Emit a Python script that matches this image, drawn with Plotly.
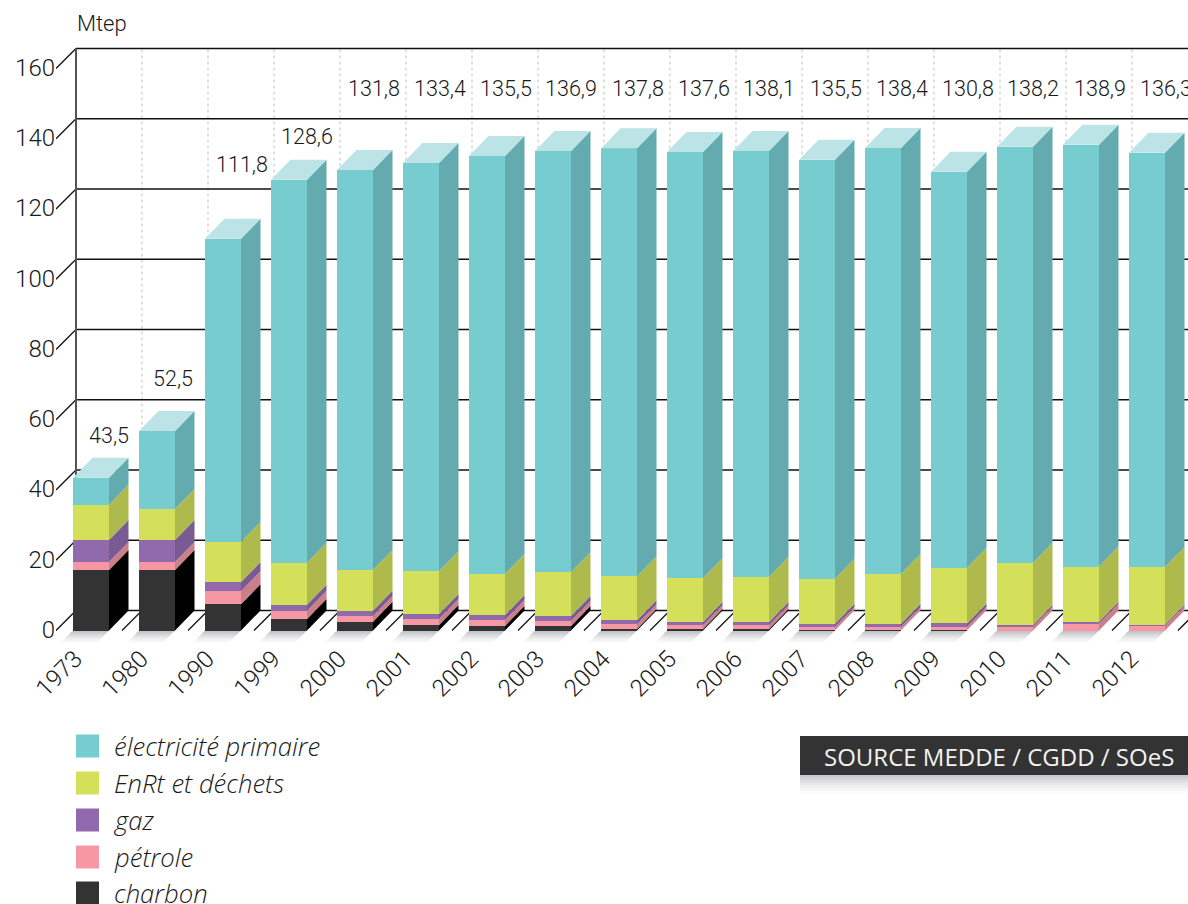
import plotly.graph_objects as go

years = ["1973","1980","1990","1999","2000","2001","2002","2003","2004","2005","2006","2007","2008","2009","2010","2011","2012"]
charbon = [17.2,17.2,7.5,3.3,2.5,1.6,1.3,1.3,0.4,0.4,0.4,0.1,0.1,0.1,0.0,0.0,0.0]
petrole = [2.3,2.3,3.7,2.3,1.6,1.7,1.7,1.4,1.4,1.1,1.1,0.9,0.9,1.0,1.0,1.9,1.3]
gaz = [6.3,6.3,2.6,1.7,1.5,1.4,1.4,1.4,1.1,0.9,0.9,0.9,0.9,0.9,0.6,0.6,0.4]
enrt = [10.0,8.8,11.4,12.0,11.6,12.2,11.7,12.5,12.5,12.5,12.8,12.8,14.2,15.9,17.7,15.7,16.4]
elec = [7.7,22.2,86.3,109.0,113.9,116.2,119.0,119.9,121.9,121.3,121.3,119.3,121.3,112.7,118.4,120.1,117.9]
total_labels = ["43,5","52,5","111,8","128,6","131,8","133,4","135,5","136,9","137,8","137,6","138,1","135,5","138,4","130,8","138,2","138,9","136,3"]
y_ticks = [0,20,40,60,80,100,120,140,160]
series_names = ["charbon","pétrole","gaz","EnRt et déchets","électricité primaire"]

# styling / layout constants (pixels of the page)
W, H = 1188, 904
PX_X0, PX_STEP = 91.0, 66.0      # centre of first bar, distance between bars
PX_Y0, PX_UNIT = 630.5, 3.5125   # front floor, pixels per Mtep
DEPTH_X, DEPTH_Y = 19.5, 20.0
BAR_W = 36.0
L, R, T, B = 56, 0, 40, H - 645
NARROW = "Roboto"
INK = "#1a1a1a"
SANS = "Open Sans"
front = ["#333333","#f697a4","#9169ad","#d4e05a","#77cccf"]
side = ["#000000","#cb7f88","#7a5a92","#aeba4c","#64abb0"]
top_col = "#bce4e6"
label_py = [438,381,167,139] + [91]*13
label_dx = [-1,-3,0,-1,0,0,0,-1,0,0,-1,0,0,0,-1,0,0]
num_font = dict(family=NARROW, size=21.5, color=INK, weight=300)
tick_font = dict(family=NARROW, size=24, color=INK, weight=300)

def xv(px): return (px - PX_X0) / PX_STEP
def yv(py): return (PX_Y0 - py) / PX_UNIT
def xp(px): return (px - L) / (W - L - R)
def yp(py): return (H - B - py) / (H - B - T)

dx, dy, bw = DEPTH_X / PX_STEP, DEPTH_Y / PX_UNIT, BAR_W / PX_STEP
stack = [charbon, petrole, gaz, enrt, elec]
idx = list(range(len(years)))

fig = go.Figure()

# front faces
for name, vals, col in zip(series_names, stack, front):
    fig.add_trace(go.Bar(x=idx, y=vals, name=name, width=bw, marker=dict(color=col, line=dict(width=0))))

# side faces
bottom = [0.0] * len(years)
for name, vals, col in zip(series_names, stack, side):
    xs, ys = [], []
    for i, v in enumerate(vals):
        b, t = bottom[i], bottom[i] + v
        r = i + bw / 2
        xs += [r, r + dx, r + dx, r, r, None]
        ys += [b, b + dy, t + dy, t, b, None]
        bottom[i] = t
    fig.add_trace(go.Scatter(x=xs, y=ys, mode="lines", fill="toself", fillcolor=col, line=dict(width=0), hoverinfo="skip"))

# top faces
xs, ys = [], []
for i, t in enumerate(bottom):
    l, r = i - bw / 2, i + bw / 2
    xs += [l, r, r + dx, l + dx, l, None]
    ys += [t, t, t + dy, t + dy, t, None]
fig.add_trace(go.Scatter(x=xs, y=ys, mode="lines", fill="toself", fillcolor=top_col, line=dict(width=0), hoverinfo="skip"))

# totals
fig.add_trace(go.Scatter(x=[i + bw / 2 + 1 / PX_STEP + d / PX_STEP for i, d in zip(idx, label_dx)],
                         y=[yv(p) for p in label_py], mode="text", text=total_labels, textposition="middle center",
                         textfont=num_font, cliponaxis=False, hoverinfo="skip"))

shapes = []
def line(x0, y0, x1, y1, color="#111111", width=1.3, dash="solid"):
    shapes.append(dict(type="line", xref="x", yref="y", x0=x0, y0=y0, x1=x1, y1=y1, layer="below",
                       line=dict(color=color, width=width, dash=dash)))

wall = xv(76)
right = xv(W)
# dotted verticals on the back wall
for k in range(1, len(years) + 1):
    line(wall + k, dy, wall + k, 160 + dy, color="#cfcfcf", width=1.3, dash="dot")
# back-wall grid and side ticks
for v in y_ticks:
    line(wall, v + dy, right, v + dy)
    line(xv(56), v, wall, v + dy, width=1.3)
line(wall, dy, wall, 160 + dy, color="#555555", width=2)
# floor diagonals
for k in range(1, len(years) + 1):
    line(xv(56) + k, 0, wall + k, dy, width=1.3)
# floor shadows under each bar
N = 10
for i in idx:
    for n in range(N):
        f0, f1 = n / N, (n + 1) / N
        a = 0.36 * (1 - f0) ** 1.5
        s0, s1 = 13 * f0, 13 * f1
        l, r = i - bw / 2, i + bw / 2
        ya, yb = yv(PX_Y0 + s0), yv(PX_Y0 + s1)
        xa, xb = s0 / PX_STEP, s1 / PX_STEP
        shapes.append(dict(type="path", xref="x", yref="y", layer="below", fillcolor=f"rgba(70,75,90,{a:.3f})",
                           line=dict(width=0),
                           path=f"M{l-xa},{ya} L{r-xa},{ya} L{r-xb},{yb} L{l-xb},{yb} Z"))

def rect_px(x0, y0, x1, y1, color):
    shapes.append(dict(type="rect", xref="paper", yref="paper", x0=xp(x0), x1=xp(x1), y0=yp(y0), y1=yp(y1),
                       fillcolor=color, line=dict(width=0), layer="above"))

annotations = [dict(text="Mtep", xref="paper", yref="paper", x=xp(75), y=yp(24), xanchor="left", yanchor="middle",
                    showarrow=False, font=dict(family=NARROW, size=22, color=INK, weight=300))]

# legend
legend_py = [746, 783, 820, 857, 893]
for name, col, py in zip(series_names[::-1], front[::-1], legend_py):
    rect_px(76, py - 11.5, 99, py + 11.5, col)
    annotations.append(dict(text=f"<i>{name}</i>", xref="paper", yref="paper", x=xp(112), y=yp(py), xanchor="left",
                            yanchor="middle", showarrow=False, font=dict(family=SANS, size=25.7, color=INK, weight=300)))

# source box
rect_px(800, 736, W, 775, "#333333")
for n in range(10):
    a = 0.30 * (1 - n / 10) ** 1.6
    rect_px(800, 775 + 2 * n, W, 777 + 2 * n, f"rgba(70,75,90,{a:.3f})")
annotations.append(dict(text="SOURCE MEDDE / CGDD / SOeS", xref="paper", yref="paper", x=xp(999), y=yp(756),
                        xanchor="center", yanchor="middle", showarrow=False,
                        font=dict(family=SANS, size=24, color="#f2f2f2", weight=400)))

fig.update_layout(
    width=W, height=H, autosize=False, margin=dict(l=L, r=R, t=T, b=B, pad=0),
    paper_bgcolor="white", plot_bgcolor="white", showlegend=False, barmode="stack",
    shapes=shapes, annotations=annotations,
    font=num_font,
    xaxis=dict(range=[xv(L), xv(W)], showgrid=False, zeroline=False, showline=False, tickmode="array",
               tickvals=[i - 0.24 for i in idx], ticktext=years, tickangle=-45, ticklen=0, ticklabelstandoff=-6,
               tickfont=tick_font),
    yaxis=dict(range=[yv(H - B), yv(T)], showgrid=False, zeroline=False, showline=False, tickmode="array",
               tickvals=[v + 0.3 for v in y_ticks], ticktext=[str(v) for v in y_ticks], ticklen=10,
               tickcolor="rgba(0,0,0,0)", tickfont=tick_font),
)

fig.write_html("out.html", post_script="document.body.style.margin='0';document.documentElement.style.overflow='hidden';",
               config=dict(displayModeBar=False))
